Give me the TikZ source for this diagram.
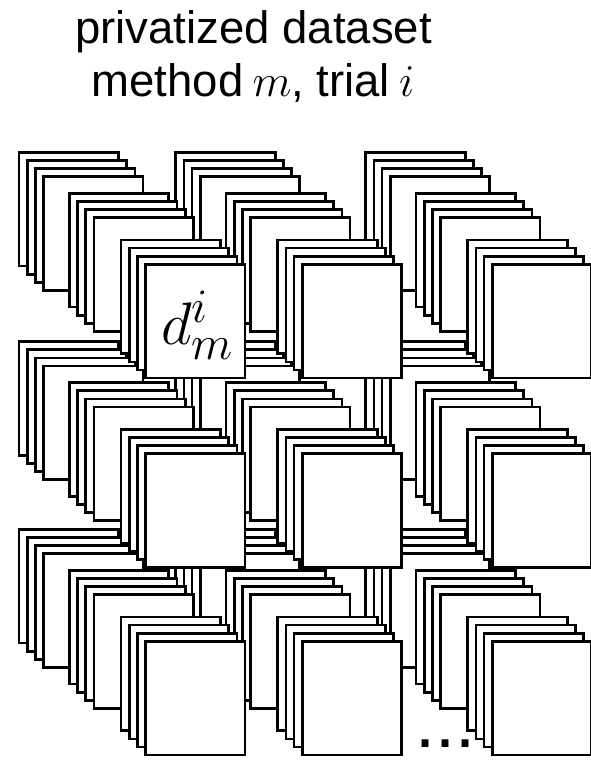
\RequirePackage{fix-cm}
\documentclass[tikz,border=0pt]{standalone}
\usepackage{fontspec}
\setmainfont{Liberation Sans}
\tikzset{
  sheet/.style={draw=black, fill=white, line width=2.7pt,
    minimum width=99.5pt, minimum height=113.8pt,
    inner sep=0pt, outer sep=0pt, anchor=north west},
  titleline/.style={anchor=base, inner sep=0pt,
    font=\fontsize{45.5}{53}\selectfont},
}
% a math symbol set at an explicit size, for use as a script
\newcommand{\scriptat}[2]{\mbox{\fontsize{#1}{#1}\selectfont$#2$}}
\begin{document}
\begin{tikzpicture}[x=1pt, y=-1pt]
  \useasboundingbox (0,0) rectangle (590,762);

  % heading
  \node[titleline] (head1) at (253.7,44) {privatized dataset};
  \node[titleline] (head2) at (253,97) {method\hspace{0.2em}$m$, trial\hspace{0.2em}$i$};

  % grid of stacked sheets, painted back to front:
  % group g (along the diagonal), sheet k within the group, then every cell
  \foreach \g/\gx/\gy in {1/0/0, 2/50.3/41, 3/102/87.7}{
    \foreach \k in {0,...,3}{
      \foreach \r/\ry in {1/152.3, 2/341.7, 3/529.3}{
        \foreach \c/\cx in {1/19, 2/175.7, 3/365.7}{
          \node[sheet] (s\r\c\g\k) at ({\cx+\gx+8.2*\k},{\ry+\gy+8.1*\k}) {};
        }
      }
    }
  }

  % label of the front sheet in the first cell
  \node[anchor=base west, inner sep=0pt, font=\fontsize{60}{60}\selectfont]
    (dmi) at (161,344.3) {$d^{\scriptat{48}{i}}_{\scriptat{48}{m}}$};

  % continuation marks
  \node[anchor=base west, inner sep=0pt, font=\fontsize{72}{72}\selectfont]
    (more) at (415.2,747.7) {...};
\end{tikzpicture}
\end{document}
